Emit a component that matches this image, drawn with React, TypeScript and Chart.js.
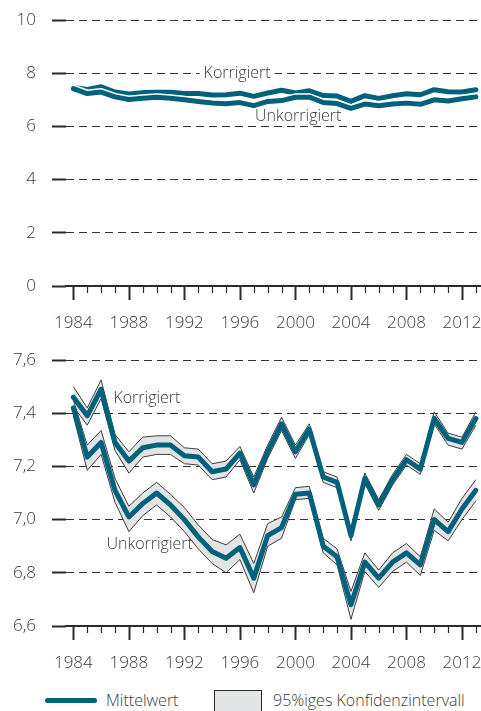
import React, { useEffect, useRef } from 'react';
import { Chart, registerables } from 'chart.js';

Chart.register(...registerables);

// ---- data ----
const years = [1984, 1985, 1986, 1987, 1988, 1989, 1990, 1991, 1992, 1993, 1994, 1995, 1996, 1997, 1998, 1999, 2000, 2001, 2002, 2003, 2004, 2005, 2006, 2007, 2008, 2009, 2010, 2011, 2012, 2013];
const yearLabels = [1984, 1988, 1992, 1996, 2000, 2004, 2008, 2012];
const topTicks = [0, 2, 4, 6, 8, 10];
const bottomTicks = [6.6, 6.8, 7.0, 7.2, 7.4, 7.6];

const korrigiert = [7.46, 7.39, 7.49, 7.29, 7.22, 7.27, 7.28, 7.28, 7.24, 7.235, 7.18, 7.19, 7.25, 7.13, 7.255, 7.36, 7.255, 7.34, 7.16, 7.14, 6.94, 7.155, 7.055, 7.15, 7.225, 7.19, 7.38, 7.305, 7.29, 7.38];
const korrigiertUpper = [7.50, 7.42, 7.525, 7.32, 7.255, 7.31, 7.315, 7.315, 7.27, 7.265, 7.21, 7.22, 7.275, 7.16, 7.28, 7.385, 7.28, 7.36, 7.18, 7.16, 6.96, 7.175, 7.075, 7.17, 7.245, 7.21, 7.405, 7.325, 7.31, 7.405];
const korrigiertLower = [7.425, 7.355, 7.455, 7.26, 7.175, 7.235, 7.245, 7.245, 7.21, 7.205, 7.15, 7.16, 7.225, 7.10, 7.23, 7.335, 7.23, 7.32, 7.14, 7.12, 6.92, 7.135, 7.035, 7.13, 7.205, 7.17, 7.36, 7.28, 7.265, 7.355];

const unkorrigiert = [7.42, 7.235, 7.29, 7.11, 7.01, 7.06, 7.10, 7.055, 7.00, 6.935, 6.88, 6.855, 6.895, 6.78, 6.94, 6.97, 7.095, 7.10, 6.90, 6.86, 6.68, 6.84, 6.78, 6.84, 6.875, 6.83, 7.00, 6.955, 7.04, 7.11];
const unkorrigiertUpper = [7.45, 7.28, 7.335, 7.155, 7.05, 7.10, 7.14, 7.095, 7.045, 6.98, 6.925, 6.905, 6.945, 6.835, 6.985, 7.01, 7.12, 7.125, 6.93, 6.89, 6.73, 6.875, 6.81, 6.875, 6.91, 6.86, 7.04, 6.99, 7.08, 7.15];
const unkorrigiertLower = [7.39, 7.185, 7.245, 7.065, 6.955, 7.015, 7.055, 7.01, 6.955, 6.89, 6.835, 6.80, 6.85, 6.725, 6.90, 6.93, 7.075, 7.08, 6.875, 6.83, 6.625, 6.805, 6.745, 6.805, 6.84, 6.79, 6.96, 6.92, 7.00, 7.07];

// ---- styles ----
const TEAL = '#00627a';
const INK = '#3a3a3a';
const RULE = '#2a2a2a';
const BAND = '#e3e4e6';
const FONT = "'Open Sans', sans-serif";
const WEIGHT = 300;

const pts = (vals: number[]) => years.map((x, i) => ({ x, y: vals[i] }));

const yearTicksPlugin = {
  id: 'yearTicks',
  afterDraw(chart: any) {
    const { ctx, chartArea, scales } = chart;
    const x = scales.x;
    ctx.save();
    ctx.strokeStyle = RULE;
    years.forEach((yr) => {
      const major = yearLabels.includes(yr);
      const px = Math.round(x.getPixelForValue(yr)) + 0.5;
      ctx.lineWidth = major ? 2 : 1.2;
      ctx.beginPath();
      ctx.moveTo(px, chartArea.bottom);
      ctx.lineTo(px, chartArea.bottom + (major ? 14 : 7));
      ctx.stroke();
    });
    ctx.restore();
  },
};

const seriesLabelPlugin = {
  id: 'seriesLabels',
  afterDatasetsDraw(chart: any, _args: any, opts: any) {
    const { ctx, scales } = chart;
    ctx.save();
    ctx.font = `${WEIGHT} 16px ${FONT}`;
    ctx.textAlign = 'center';
    ctx.textBaseline = 'middle';
    for (const l of opts.items || []) {
      const px = scales.x.getPixelForValue(l.x);
      const py = scales.y.getPixelForValue(l.y);
      if (l.bg) {
        const w = ctx.measureText(l.text).width;
        ctx.fillStyle = '#ffffff';
        ctx.fillRect(px - w / 2 - 4, py - 3, w + 8, 6);
      }
      ctx.fillStyle = INK;
      ctx.fillText(l.text, px, py);
    }
    ctx.restore();
  },
};

function makeOptions(yMin: number, yMax: number, yTicks: number[], fmt: (v: number) => string, labels: any[]) {
  return {
    responsive: false,
    maintainAspectRatio: false,
    animation: false,
    layout: { padding: { top: 20, right: 0, bottom: 0, left: 0 } },
    elements: { point: { radius: 0, hoverRadius: 0 }, line: { tension: 0 } },
    plugins: {
      legend: { display: false },
      tooltip: { enabled: false },
      filler: { drawTime: 'beforeDatasetsDraw' },
      seriesLabels: { items: labels },
    },
    scales: {
      x: {
        type: 'linear',
        min: 1983.47,
        max: 2013.37,
        afterBuildTicks: (s: any) => {
          s.ticks = yearLabels.map((v) => ({ value: v }));
        },
        afterFit: (s: any) => {
          s.height = 54;
          s.paddingLeft = 0;
          s.paddingRight = 0;
          s.paddingTop = 0;
          s.paddingBottom = 0;
        },
        grid: { display: false, drawTicks: false },
        border: { display: true, color: RULE, width: 2 },
        ticks: {
          padding: 27,
          color: INK,
          font: { family: FONT, size: 17, weight: WEIGHT },
          maxRotation: 0,
          autoSkip: false,
          callback: (v: any) => String(v),
        },
      },
      y: {
        min: yMin,
        max: yMax,
        afterBuildTicks: (s: any) => {
          s.ticks = yTicks.map((v) => ({ value: v }));
        },
        afterFit: (s: any) => {
          s.width = 66;
          s.paddingTop = 0;
          s.paddingBottom = 0;
          s.paddingLeft = 0;
          s.paddingRight = 0;
        },
        grid: {
          color: (c: any) => (c.tick && Math.abs(c.tick.value - yMin) < 1e-9 ? 'rgba(0,0,0,0)' : '#333333'),
          lineWidth: 1,
          drawTicks: true,
          tickLength: 14,
          tickColor: RULE,
          tickWidth: 2,
          tickBorderDash: [],
        },
        border: { display: false, dash: [8, 5] },
        ticks: {
          padding: 16,
          color: INK,
          font: { family: FONT, size: 17, weight: WEIGHT },
          callback: (v: any) => fmt(Number(v)),
        },
      },
    },
  } as any;
}

export default function App() {
  const topRef = useRef<HTMLCanvasElement>(null);
  const botRef = useRef<HTMLCanvasElement>(null);

  useEffect(() => {
    const top = new Chart(topRef.current as HTMLCanvasElement, {
      type: 'line',
      data: {
        datasets: [
          { data: pts(korrigiert), borderColor: '#ffffff', borderWidth: 8, order: 4, borderJoinStyle: 'round', borderCapStyle: 'round' },
          { data: pts(korrigiert), borderColor: TEAL, borderWidth: 5, order: 3, borderJoinStyle: 'round', borderCapStyle: 'round' },
          { data: pts(unkorrigiert), borderColor: '#ffffff', borderWidth: 8, order: 2, borderJoinStyle: 'round', borderCapStyle: 'round' },
          { data: pts(unkorrigiert), borderColor: TEAL, borderWidth: 5, order: 1, borderJoinStyle: 'round', borderCapStyle: 'round' },
        ] as any,
      },
      options: makeOptions(0, 10, topTicks, (v) => String(v), [
        { text: 'Korrigiert', x: 1995.8, y: 8, bg: true },
        { text: 'Unkorrigiert', x: 2000.2, y: 6.36 },
      ]),
      plugins: [yearTicksPlugin, seriesLabelPlugin],
    });

    const bottom = new Chart(botRef.current as HTMLCanvasElement, {
      type: 'line',
      data: {
        datasets: [
          { data: pts(korrigiertUpper), borderColor: RULE, borderWidth: 0.9, backgroundColor: BAND, fill: '+1', order: 6 },
          { data: pts(korrigiertLower), borderColor: RULE, borderWidth: 0.9, fill: false, order: 5 },
          { data: pts(unkorrigiertUpper), borderColor: RULE, borderWidth: 0.9, backgroundColor: BAND, fill: '+1', order: 4 },
          { data: pts(unkorrigiertLower), borderColor: RULE, borderWidth: 0.9, fill: false, order: 3 },
          { data: pts(korrigiert), borderColor: TEAL, borderWidth: 5, fill: false, order: 2, borderJoinStyle: 'round', borderCapStyle: 'round' },
          { data: pts(unkorrigiert), borderColor: TEAL, borderWidth: 5, fill: false, order: 1, borderJoinStyle: 'round', borderCapStyle: 'round' },
        ] as any,
      },
      options: makeOptions(6.6, 7.6, bottomTicks, (v) => v.toFixed(1).replace('.', ','), [
        { text: 'Korrigiert', x: 1989.3, y: 7.457 },
        { text: 'Unkorrigiert', x: 1989.5, y: 6.905 },
      ]),
      plugins: [yearTicksPlugin, seriesLabelPlugin],
    });

    return () => {
      top.destroy();
      bottom.destroy();
    };
  }, []);

  const text: React.CSSProperties = {
    position: 'absolute',
    fontFamily: FONT,
    fontSize: 16,
    fontWeight: WEIGHT,
    lineHeight: '20px',
    color: INK,
    whiteSpace: 'nowrap',
  };

  return (
    <div style={{ position: 'absolute', left: 0, top: 0, width: 481, height: 711, overflow: 'hidden', background: '#ffffff' }}>
      <canvas ref={topRef} width={481} height={340} style={{ position: 'absolute', left: 0, top: 0, width: 481, height: 340 }} />
      <canvas ref={botRef} width={481} height={340} style={{ position: 'absolute', left: 0, top: 340, width: 481, height: 340 }} />
      <div style={{ position: 'absolute', left: 45, top: 698, width: 52, height: 5, borderRadius: 3, background: TEAL }} />
      <div style={{ ...text, left: 106, top: 690 }}>Mittelwert</div>
      <div style={{ position: 'absolute', left: 214, top: 690, width: 48, height: 27, boxSizing: 'border-box', border: `1px solid ${RULE}`, background: BAND }} />
      <div style={{ ...text, left: 273, top: 690 }}>95%iges Konfidenzintervall</div>
    </div>
  );
}
